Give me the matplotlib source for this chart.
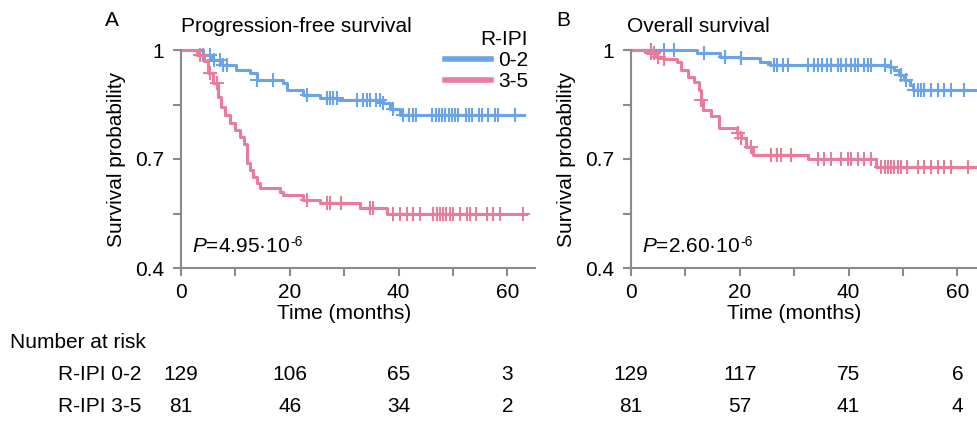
import numpy as np
import matplotlib.pyplot as plt

plt.rcParams['font.family'] = ['Liberation Sans', 'DejaVu Sans']
plt.rcParams['mathtext.fontset'] = 'custom'
plt.rcParams['mathtext.rm'] = 'Liberation Sans'
plt.rcParams['mathtext.it'] = 'Liberation Sans:italic'

blue = '#6aa3e8'
pink = '#e97b9b'
grey = '#8a8a8a'

# Panel A - progression-free survival
pfs_low_t = [0, 4.0, 5.5, 7.5, 10.2, 12.7, 13.9, 18.8, 19.4, 22.4, 25.5, 29.0, 37.2, 38.4, 40.2]
pfs_low_s = [1, 0.986, 0.972, 0.959, 0.945, 0.936, 0.917, 0.909, 0.89, 0.876, 0.868, 0.862, 0.853, 0.838, 0.82]
pfs_low_end = 63.0
pfs_low_cens = [4.1, 5.3, 6.0, 7.2, 7.8, 8.4, 13.9, 17.0, 23.1, 26.8, 27.4, 28.0, 28.6, 32.3, 33.5, 34.1,
                34.7, 35.9, 36.6, 37.2, 39.0, 40.8, 42.0, 42.6, 43.2, 46.2, 46.8, 47.4, 48.0, 48.6, 49.2,
                49.8, 50.4, 51.0, 52.3, 52.9, 53.5, 54.7, 55.3, 56.5, 57.7, 58.3, 61.4]

pfs_high_t = [0, 2.9, 4.3, 5.0, 5.8, 6.8, 7.4, 8.1, 9.0, 9.9, 10.8, 11.6, 12.1, 12.7, 13.3, 13.9, 14.5,
              18.2, 18.8, 22.4, 25.5, 32.9, 37.8]
pfs_high_s = [1, 0.986, 0.97, 0.936, 0.909, 0.871, 0.844, 0.821, 0.799, 0.78, 0.761, 0.74, 0.69, 0.67,
              0.65, 0.635, 0.62, 0.61, 0.6, 0.587, 0.578, 0.565, 0.55]
pfs_high_end = 63.4
pfs_high_cens = [3.5, 5.3, 6.6, 23.1, 26.8, 27.4, 29.5, 34.7, 35.3, 39.0, 40.2, 41.5, 42.7, 43.9, 46.4,
                 47.0, 47.6, 48.2, 48.8, 49.4, 50.0, 51.3, 52.5, 53.1, 54.3, 56.2, 57.4, 58.6, 62.9]

# Panel B - overall survival
os_low_t = [0, 12.2, 16.3, 20.0, 23.7, 25.6, 47.6, 48.4, 49.3, 50.2, 51.2, 51.8]
os_low_s = [1, 0.991, 0.982, 0.977, 0.968, 0.959, 0.952, 0.945, 0.93, 0.917, 0.903, 0.89]
os_low_end = 63.7
os_low_cens = [3.7, 6.1, 7.9, 13.5, 17.2, 20.2, 26.3, 26.9, 27.9, 28.8, 32.5, 33.7, 34.3, 35.2, 36.1,
               36.8, 38.0, 38.6, 39.5, 40.4, 41.1, 41.7, 42.9, 43.5, 44.1, 46.6, 47.8, 49.6, 50.5,
               52.1, 52.7, 53.3, 53.9, 55.1, 56.4, 57.6, 58.8, 61.3]

os_high_t = [0, 3.0, 4.5, 6.1, 8.4, 9.2, 10.4, 11.6, 12.5, 12.8, 13.2, 14.7, 16.1, 19.4, 20.2, 21.2,
             22.4, 32.5, 45.0]
os_high_s = [1, 0.991, 0.982, 0.975, 0.968, 0.945, 0.927, 0.913, 0.89, 0.862, 0.835, 0.817, 0.785,
             0.771, 0.757, 0.734, 0.711, 0.699, 0.679]
os_high_end = 63.7
os_high_cens = [3.7, 4.3, 5.0, 6.1, 12.9, 19.6, 20.2, 22.1, 25.7, 26.9, 27.6, 29.4, 34.3, 35.5, 36.8,
                38.6, 39.8, 40.4, 41.7, 42.9, 44.1, 45.9, 46.6, 47.2, 47.8, 48.4, 49.0, 49.6, 50.8,
                52.7, 53.9, 55.1, 56.4, 57.6, 58.8, 61.9, 63.7]

risk_times = [0, 20, 40, 60]
pfs_risk_low = [129, 106, 65, 3]
pfs_risk_high = [81, 46, 34, 2]
os_risk_low = [129, 117, 75, 6]
os_risk_high = [81, 57, 41, 4]


def km(ax, t, s, end, cens, color):
    tt = np.append(t, end)
    ss = np.append(s, s[-1])
    ax.step(tt, ss, where='post', color=color, lw=2.2, clip_on=False)
    idx = np.searchsorted(t, cens, side='right') - 1
    ax.plot(cens, np.array(s)[idx], ls='none', marker='+', ms=10, mew=1.5, color=color, clip_on=False)


def pvalue(ax, mant):
    txt = ax.text(2, 0.46, r'$P$=' + mant + '·10', fontsize=15, ha='left', va='center')
    ax.annotate('-6', xy=(1, 1), xycoords=txt, xytext=(0.5, 1.5), textcoords='offset points',
                ha='left', va='top', fontsize=10)


W, H = 978, 421
fig = plt.figure(figsize=(W / 100, H / 100), dpi=100)


def make_axes(left_px):
    ax = fig.add_axes([left_px / W, (H - 268) / H, 65 * 5.44 / W, 218 / H])
    ax.set_xlim(0, 65)
    ax.set_ylim(0.4, 1.0)
    for sp in ['top', 'right']:
        ax.spines[sp].set_visible(False)
    for sp in ['left', 'bottom']:
        ax.spines[sp].set_color(grey)
        ax.spines[sp].set_linewidth(1.5)
    ax.set_xticks([0, 10, 20, 30, 40, 50, 60])
    ax.set_xticklabels(['0', '', '20', '', '40', '', '60'])
    ax.set_yticks([0.4, 0.55, 0.7, 0.85, 1.0])
    ax.set_yticklabels(['0.4', '', '0.7', '', '1'])
    ax.tick_params(colors=grey, labelcolor='black', labelsize=15, width=1.5, length=6)
    ax.tick_params(axis='y', pad=6)
    ax.tick_params(axis='x', pad=5)
    ax.set_ylabel('Survival probability', fontsize=15)
    ax.yaxis.set_label_coords(-0.155, 0.5)
    ax.text(30, -0.21, 'Time (months)', transform=ax.get_xaxis_transform(),
            ha='center', va='center', fontsize=15)
    return ax


axA = make_axes(181)
km(axA, pfs_low_t, pfs_low_s, pfs_low_end, pfs_low_cens, blue)
km(axA, pfs_high_t, pfs_high_s, pfs_high_end, pfs_high_cens, pink)
pvalue(axA, '4.95')
fig.text(112 / W, 1 - 20 / H, 'A', fontsize=15, ha='center', va='center')
fig.text(181 / W, 1 - 27 / H, 'Progression-free survival', fontsize=15, ha='left', va='center')

axB = make_axes(631)
km(axB, os_low_t, os_low_s, os_low_end, os_low_cens, blue)
km(axB, os_high_t, os_high_s, os_high_end, os_high_cens, pink)
pvalue(axB, '2.60')
fig.text(563 / W, 1 - 20 / H, 'B', fontsize=15, ha='center', va='center')
fig.text(627 / W, 1 - 27 / H, 'Overall survival', fontsize=15, ha='left', va='center')

# legend
h1, = axA.plot([], [], color=blue, lw=4)
h2, = axA.plot([], [], color=pink, lw=4)
leg = axA.legend([h1, h2], ['0-2', '3-5'], title='R-IPI', fontsize=15, title_fontsize=15,
                 frameon=False, handlelength=2.2, handletextpad=0.35, labelspacing=0.1,
                 alignment='right', loc='upper right',
                 bbox_to_anchor=(528 / W, 1 - 30 / H), bbox_transform=fig.transFigure,
                 borderpad=0, borderaxespad=0)

# number at risk table
fig.text(10 / W, 1 - 342 / H, 'Number at risk', fontsize=15, ha='left', va='center')
fig.text(58 / W, 1 - 374 / H, 'R-IPI 0-2', fontsize=15, ha='left', va='center')
fig.text(58 / W, 1 - 407 / H, 'R-IPI 3-5', fontsize=15, ha='left', va='center')
for ax, low, high in [(axA, pfs_risk_low, pfs_risk_high), (axB, os_risk_low, os_risk_high)]:
    for t, a, b in zip(risk_times, low, high):
        ax.text(t, -(374 - 268) / 218, str(a), transform=ax.get_xaxis_transform(),
                ha='center', va='center', fontsize=15)
        ax.text(t, -(407 - 268) / 218, str(b), transform=ax.get_xaxis_transform(),
                ha='center', va='center', fontsize=15)

fig.savefig('out.png', dpi=100)
